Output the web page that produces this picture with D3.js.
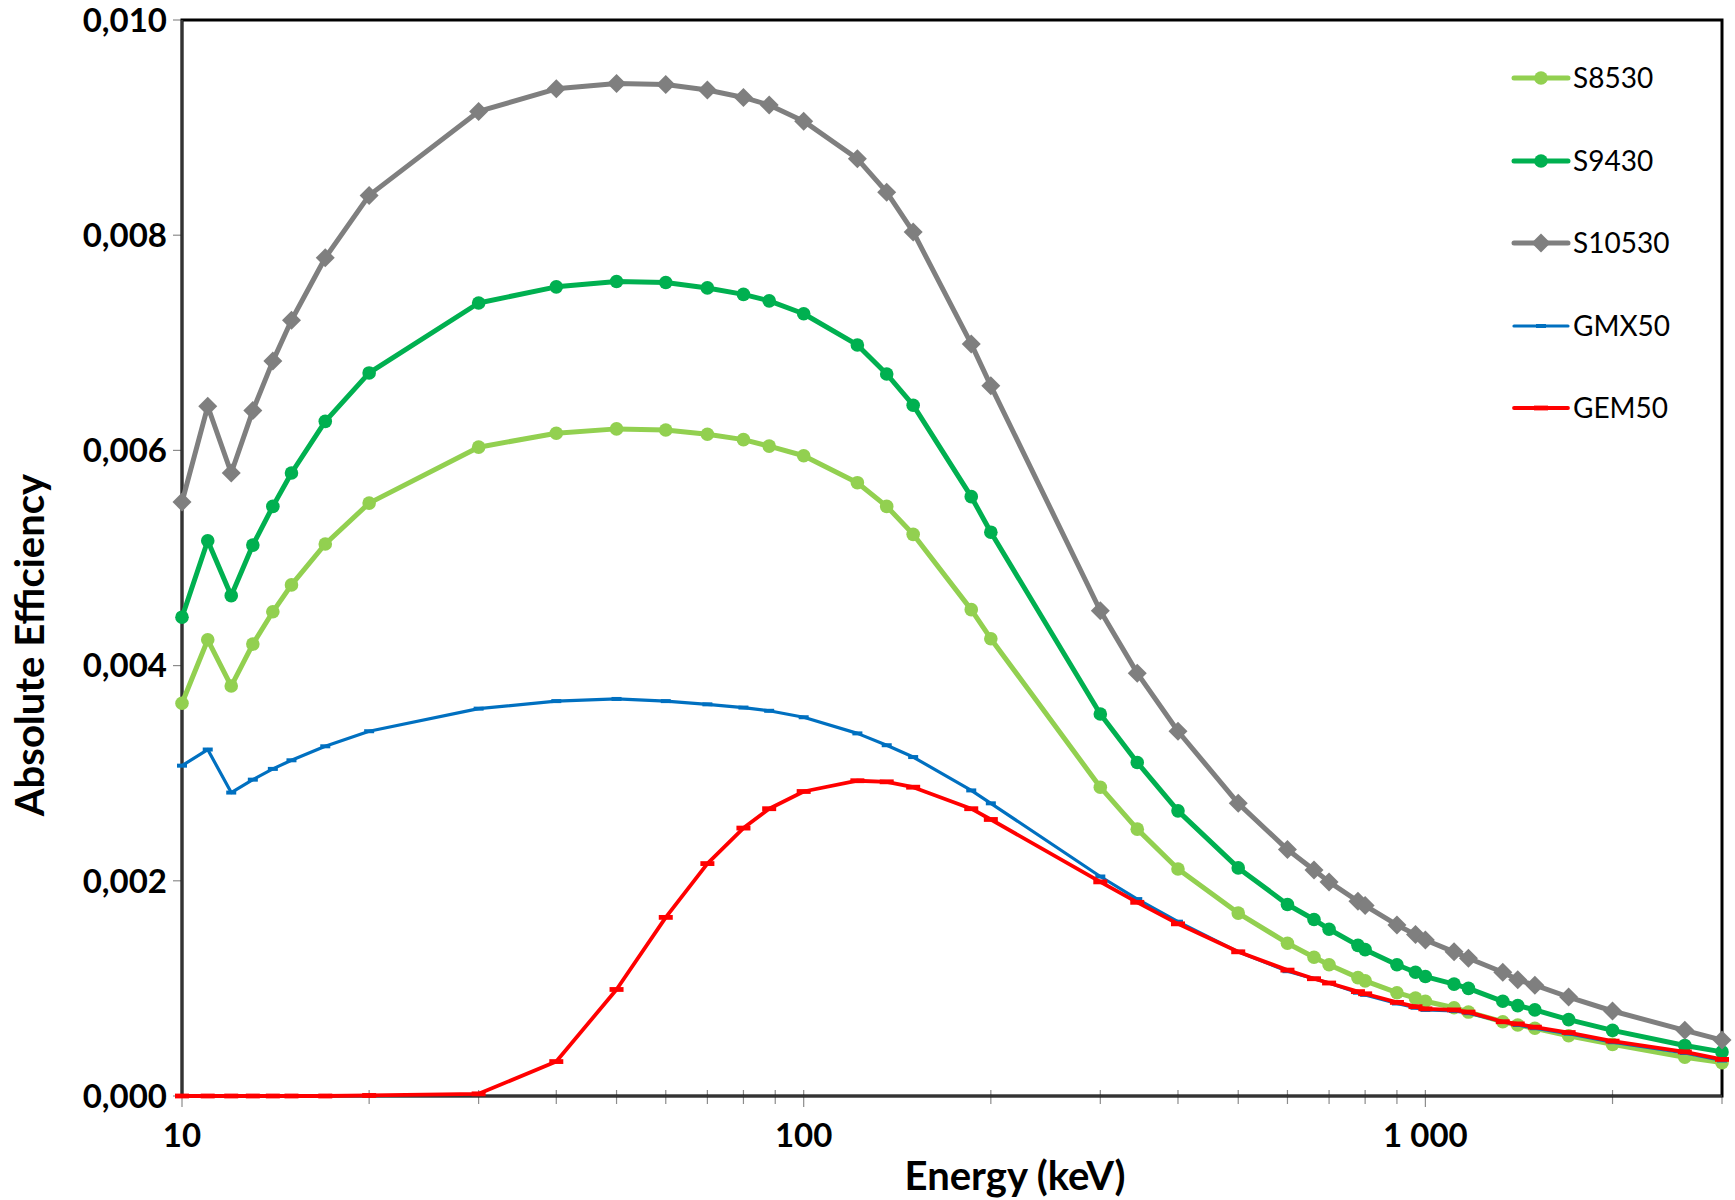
<!DOCTYPE html>
<meta charset="utf-8">
<script src="https://d3js.org/d3.v7.min.js"></script>
<style>
  body { margin: 0; background: #fff; }
  svg { font-family: 'Lato', 'Open Sans', sans-serif; }
  .tick-label { font-weight: bold; font-size: 33px; fill: #000; }
  .axis-title { font-weight: bold; font-size: 40px; fill: #000; }
  .legend text { font-size: 28px; fill: #000; }
</style>
<body>
<svg width="1735" height="1200"></svg>
<script>

// energies (keV)
var energy = [10, 11, 12, 13, 14, 15, 17, 20, 30, 40, 50, 60, 70, 80, 88, 100, 122, 136, 150, 186, 200,
  300, 344, 400, 500, 600, 662, 700, 779, 800, 900, 964, 1000, 1112, 1173, 1332, 1408, 1500, 1700, 2000, 2614, 3000];

var s8530 = [0.00365, 0.00424, 0.00381, 0.00420, 0.00450, 0.00475, 0.00513, 0.00551, 0.00603, 0.00616, 0.00620,
  0.00619, 0.00615, 0.00610, 0.00604, 0.00595, 0.00570, 0.00548, 0.00522, 0.00452, 0.00425,
  0.00287, 0.00248, 0.00211, 0.00170, 0.00142, 0.00129, 0.00122, 0.00110, 0.00107, 0.00096, 0.00091, 0.00088,
  0.00082, 0.00078, 0.00069, 0.00066, 0.00063, 0.00056, 0.00048, 0.00036, 0.00031];

var s9430 = [0.00445, 0.00516, 0.00465, 0.00512, 0.00548, 0.00579, 0.00627, 0.00672, 0.00737, 0.00752, 0.00757,
  0.00756, 0.00751, 0.00745, 0.00739, 0.00727, 0.00698, 0.00671, 0.00642, 0.00557, 0.00524,
  0.00355, 0.00310, 0.00265, 0.00212, 0.00178, 0.00164, 0.00155, 0.00140, 0.00136, 0.00122, 0.00115, 0.00111,
  0.00104, 0.00100, 0.00088, 0.00084, 0.00080, 0.00071, 0.00061, 0.00047, 0.00041];

var s10530 = [0.00552, 0.00641, 0.00579, 0.00637, 0.00683, 0.00721, 0.00779, 0.00837, 0.00915, 0.00936, 0.00941,
  0.00940, 0.00935, 0.00928, 0.00921, 0.00906, 0.00871, 0.00840, 0.00803, 0.00699, 0.00660,
  0.00451, 0.00393, 0.00339, 0.00272, 0.00229, 0.00210, 0.00199, 0.00181, 0.00177, 0.00159, 0.00150, 0.00145,
  0.00134, 0.00128, 0.00115, 0.00108, 0.00103, 0.00092, 0.00079, 0.00061, 0.00052];

var gmx50 = [0.00307, 0.00322, 0.00282, 0.00294, 0.00304, 0.00312, 0.00325, 0.00339, 0.00360, 0.00367, 0.00369,
  0.00367, 0.00364, 0.00361, 0.00358, 0.00352, 0.00337, 0.00326, 0.00315, 0.00284, 0.00272,
  0.00204, 0.00183, 0.00162, 0.00134, 0.00116, 0.00109, 0.00105, 0.00096, 0.00094, 0.00086, 0.00082, 0.00080,
  0.00079, 0.00077, 0.00069, 0.00066, 0.00063, 0.00058, 0.00050, 0.00040, 0.00033];

var gem50 = [0, 0, 0, 0, 0, 0, 0, 0.000005, 0.00002, 0.00032, 0.00099,
  0.00166, 0.00216, 0.00249, 0.00267, 0.00283, 0.00293, 0.00292, 0.00287, 0.00267, 0.00257,
  0.00199, 0.00180, 0.00160, 0.00134, 0.00117, 0.00109, 0.00105, 0.00097, 0.00095, 0.00087, 0.00083, 0.00081,
  0.00080, 0.00078, 0.00069, 0.00067, 0.00064, 0.00059, 0.00051, 0.00041, 0.00034];

var seriesNames = ["S8530", "S9430", "S10530", "GMX50", "GEM50"];
var yTicks = [0, 0.002, 0.004, 0.006, 0.008, 0.010];
var xMajor = [10, 100, 1000];
var xMajorLabels = ["10", "100", "1 000"];
var xMinor = [20, 30, 40, 50, 60, 70, 80, 90, 200, 300, 400, 500, 600, 700, 800, 900, 2000, 3000];

var series = [
  {name: seriesNames[0], values: s8530, color: "#92D050", width: 5, marker: "circle"},
  {name: seriesNames[1], values: s9430, color: "#00B050", width: 5, marker: "circle"},
  {name: seriesNames[2], values: s10530, color: "#7F7F7F", width: 5, marker: "diamond"},
  {name: seriesNames[3], values: gmx50, color: "#0070C0", width: 3.2, marker: "dashS"},
  {name: seriesNames[4], values: gem50, color: "#FF0000", width: 3.8, marker: "dashL"}
];

var svg = d3.select("svg"),
    margin = {top: 20, right: 13, bottom: 104, left: 182},
    width = +svg.attr("width") - margin.left - margin.right,
    height = +svg.attr("height") - margin.top - margin.bottom,
    g = svg.append("g").attr("transform", "translate(" + margin.left + "," + margin.top + ")");

var x = d3.scaleLog().domain([10, 3000]).range([0, width]);
var y = d3.scaleLinear().domain([0, 0.010]).range([height, 0]);

// y ticks + labels
g.selectAll(".ytick").data(yTicks).enter().append("line")
    .attr("x1", -9).attr("x2", 0)
    .attr("y1", function(d) { return y(d); }).attr("y2", function(d) { return y(d); })
    .attr("stroke", "#8c8c8c").attr("stroke-width", 1.2);

g.selectAll(".ylab").data(yTicks).enter().append("text")
    .attr("class", "tick-label")
    .attr("x", -15)
    .attr("y", function(d) { return y(d); })
    .attr("dy", "0.36em")
    .attr("text-anchor", "end")
    .text(function(d) { return d3.format(".3f")(d).replace(".", ","); });

// x ticks
g.selectAll(".xminor").data(xMinor).enter().append("line")
    .attr("x1", function(d) { return x(d); }).attr("x2", function(d) { return x(d); })
    .attr("y1", height - 6).attr("y2", height + 8)
    .attr("stroke", "#8c8c8c").attr("stroke-width", 1.2);

g.selectAll(".xmajor").data(xMajor).enter().append("line")
    .attr("x1", function(d) { return x(d); }).attr("x2", function(d) { return x(d); })
    .attr("y1", height - 6).attr("y2", height + 11)
    .attr("stroke", "#8c8c8c").attr("stroke-width", 1.2);

g.selectAll(".xlab").data(xMajor).enter().append("text")
    .attr("class", "tick-label")
    .attr("x", function(d) { return x(d); })
    .attr("y", height + 39)
    .attr("dy", "0.36em")
    .attr("text-anchor", "middle")
    .text(function(d, i) { return xMajorLabels[i]; });

// frame
g.append("rect")
    .attr("width", width).attr("height", height)
    .attr("fill", "none").attr("stroke", "#000").attr("stroke-width", 3);
g.append("line").attr("x1", 0).attr("x2", 0).attr("y1", 0).attr("y2", height)
    .attr("stroke", "#333").attr("stroke-width", 2.5);
g.append("line").attr("x1", 0).attr("x2", width).attr("y1", height).attr("y2", height)
    .attr("stroke", "#333").attr("stroke-width", 2.5);

// series
var line = d3.line()
    .x(function(d) { return x(d[0]); })
    .y(function(d) { return y(d[1]); });

function drawMarker(sel, s) {
  if (s.marker === "circle") {
    sel.append("circle").attr("r", 6.8).attr("fill", s.color);
  } else if (s.marker === "diamond") {
    sel.append("path").attr("d", "M0,-9.5L9.5,0L0,9.5L-9.5,0Z").attr("fill", s.color);
  } else if (s.marker === "dashS") {
    sel.append("rect").attr("x", -5).attr("y", -2).attr("width", 10).attr("height", 4).attr("fill", s.color);
  } else {
    sel.append("rect").attr("x", -7).attr("y", -2.4).attr("width", 14).attr("height", 4.8).attr("fill", s.color);
  }
}

series.forEach(function(s) {
  var pts = energy.map(function(e, i) { return [e, s.values[i]]; });
  var sg = g.append("g");
  sg.append("path")
      .datum(pts)
      .attr("fill", "none")
      .attr("stroke", s.color)
      .attr("stroke-width", s.width)
      .attr("stroke-linejoin", "round")
      .attr("d", line);
  sg.selectAll(".pt").data(pts).enter().append("g")
      .attr("transform", function(d) { return "translate(" + x(d[0]) + "," + y(d[1]) + ")"; })
      .each(function() { drawMarker(d3.select(this), s); });
});

// axis titles
svg.append("text")
    .attr("class", "axis-title")
    .attr("x", 1015)
    .attr("y", 1176)
    .attr("dy", "0.36em")
    .attr("text-anchor", "middle")
    .text("Energy (keV)");

svg.append("text")
    .attr("class", "axis-title")
    .attr("transform", "translate(30,645) rotate(-90)")
    .attr("dy", "0.36em")
    .attr("text-anchor", "middle")
    .text("Absolute Efficiency");

// legend
var legendY = [78, 161, 243, 326, 408];
var legend = svg.append("g").attr("class", "legend")
  .selectAll("g")
  .data(series)
  .enter().append("g")
    .attr("transform", function(d, i) { return "translate(1541," + legendY[i] + ")"; });

legend.append("line")
    .attr("x1", -27).attr("x2", 27)
    .attr("stroke", function(d) { return d.color; })
    .attr("stroke-width", function(d) { return d.width; })
    .attr("stroke-linecap", "round");

legend.each(function(d) { drawMarker(d3.select(this), d); });

legend.append("text")
    .attr("x", 32)
    .attr("dy", "0.36em")
    .text(function(d) { return d.name; });

</script>
</body>
